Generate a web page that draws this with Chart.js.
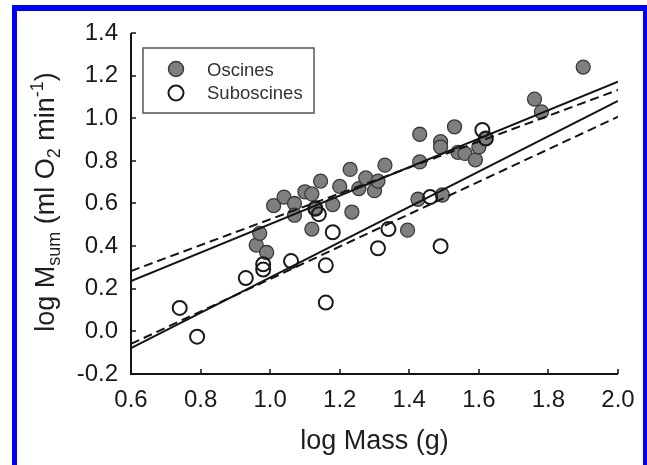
<!DOCTYPE html>
<html>
<head>
<meta charset="utf-8">
<script src="https://cdn.jsdelivr.net/npm/chart.js@4.4.1/dist/chart.umd.min.js"></script>
<style>
  html, body { margin: 0; padding: 0; background: #fff; overflow: hidden; }
  #wrap { position: relative; width: 647px; height: 465px; }
  #myChart { display: block; }
  #frame { position: absolute; left: 12px; top: 5px; width: 626px; height: 520px;
           border: 5px solid #0000f5; border-top-width: 6px; pointer-events: none; }
</style>
</head>
<body>
<div id="wrap">
  <canvas id="myChart" width="647" height="465"></canvas>
  <div id="frame"></div>
</div>
<script>
// Oscines (filled grey circles)
const oscX = [0.96, 0.97, 0.99, 1.01, 1.04, 1.07, 1.07, 1.10, 1.12, 1.12, 1.13, 1.145, 1.18, 1.20, 1.23, 1.235, 1.255, 1.275, 1.30, 1.31,
              1.33, 1.395, 1.425, 1.43, 1.43, 1.49, 1.49, 1.495, 1.53, 1.54, 1.56, 1.59, 1.60, 1.62, 1.76, 1.78, 1.90];
const oscY = [0.405, 0.46, 0.37, 0.59, 0.63, 0.60, 0.545, 0.655, 0.645, 0.48, 0.58, 0.705, 0.595, 0.68, 0.76, 0.56, 0.67, 0.72, 0.66, 0.705,
              0.78, 0.475, 0.62, 0.795, 0.925, 0.89, 0.865, 0.64, 0.96, 0.84, 0.835, 0.805, 0.865, 0.905, 1.09, 1.03, 1.24];

// Suboscines (open circles)
const subX = [0.74, 0.79, 0.93, 0.98, 0.98, 1.06, 1.13, 1.14, 1.16, 1.16, 1.18, 1.31, 1.34, 1.46, 1.49, 1.61, 1.62];
const subY = [0.11, -0.025, 0.25, 0.315, 0.29, 0.33, 0.575, 0.55, 0.31, 0.135, 0.465, 0.39, 0.48, 0.63, 0.40, 0.945, 0.905];

// regression lines, end points at x = 0.6 and 2.0
const lineX = [0.6, 2.0];
const oscSolid = [0.236, 1.172];
const oscDashed = [0.283, 1.133];
const subSolid = [-0.079, 1.081];
const subDashed = [-0.059, 1.007];

const xTicks = [0.6, 0.8, 1.0, 1.2, 1.4, 1.6, 1.8, 2.0];
const yTicks = [-0.2, 0.0, 0.2, 0.4, 0.6, 0.8, 1.0, 1.2, 1.4];

const FONT = "'Liberation Sans', Arial, sans-serif";
const GREY = '#7f7f7f';

function pts(xs, ys) {
  return xs.map((x, i) => ({ x: x, y: ys[i] }));
}

function lineSet(ys, dash) {
  return {
    type: 'line',
    data: pts(lineX, ys),
    borderColor: '#141414',
    borderWidth: 2,
    borderDash: dash,
    pointRadius: 0,
    fill: false,
    order: 0
  };
}

// axes with inward ticks, titles and boxed legend
const decor = {
  id: 'decor',
  afterDraw(chart) {
    const c = chart.ctx;
    const xs = chart.scales.x, ys = chart.scales.y;
    const L = xs.left, R = xs.right, T = ys.top, B = ys.bottom;
    c.save();
    c.strokeStyle = '#141414';
    c.lineWidth = 2;
    c.beginPath();
    c.moveTo(L, T);
    c.lineTo(L, B);
    c.lineTo(R, B);
    c.stroke();
    c.lineWidth = 1.5;
    c.beginPath();
    xTicks.forEach(v => {
      const p = Math.round(xs.getPixelForValue(v));
      c.moveTo(p, B); c.lineTo(p, B - 5);
    });
    yTicks.forEach(v => {
      const p = Math.round(ys.getPixelForValue(v));
      c.moveTo(L, p); c.lineTo(L + 5, p);
    });
    c.stroke();

    // x title
    c.fillStyle = '#1e1e1e';
    c.font = '27px ' + FONT;
    c.textAlign = 'center';
    c.textBaseline = 'alphabetic';
    c.fillText('log Mass (g)', (L + R) / 2, 449);

    // y title with sub/superscripts
    const parts = [
      ['log M', 27, 0], ['sum', 18, 6], [' (ml O', 27, 0], ['2', 18, 6],
      [' min', 27, 0], ['-1', 18, -11], [')', 27, 0]
    ];
    let total = 0;
    parts.forEach(p => { c.font = p[1] + 'px ' + FONT; total += c.measureText(p[0]).width; });
    c.translate(54, 202 + total / 2);
    c.rotate(-Math.PI / 2);
    c.textAlign = 'left';
    let cx = 0;
    parts.forEach(p => {
      c.font = p[1] + 'px ' + FONT;
      c.fillText(p[0], cx, p[2]);
      cx += c.measureText(p[0]).width;
    });
    c.setTransform(1, 0, 0, 1, 0, 0);

    // legend
    c.strokeStyle = '#555';
    c.lineWidth = 1.5;
    c.strokeRect(143, 48, 171, 65);
    c.beginPath();
    c.arc(176, 69, 7.5, 0, Math.PI * 2);
    c.fillStyle = GREY;
    c.fill();
    c.strokeStyle = '#3a3a3a';
    c.lineWidth = 1.5;
    c.stroke();
    c.beginPath();
    c.arc(176, 93, 7.5, 0, Math.PI * 2);
    c.strokeStyle = '#1a1a1a';
    c.lineWidth = 2;
    c.stroke();
    c.fillStyle = '#333';
    c.font = '18.5px ' + FONT;
    c.textAlign = 'left';
    c.textBaseline = 'alphabetic';
    c.fillText(chart.data.datasets[0].label, 207, 76);
    c.fillText(chart.data.datasets[1].label, 207, 99);
    c.restore();
  }
};

const ctx = document.getElementById('myChart').getContext('2d');
const myChart = new Chart(ctx, {
  type: 'scatter',
  data: {
    datasets: [
      {
        label: 'Oscines',
        data: pts(oscX, oscY),
        pointRadius: 7,
        pointBackgroundColor: GREY,
        pointBorderColor: '#3a3a3a',
        pointBorderWidth: 1.3,
        order: 2
      },
      {
        label: 'Suboscines',
        data: pts(subX, subY),
        pointRadius: 7,
        pointBackgroundColor: 'rgba(255,255,255,0)',
        pointBorderColor: '#1a1a1a',
        pointBorderWidth: 2,
        order: 1
      },
      lineSet(oscSolid, []),
      lineSet(oscDashed, [9, 5]),
      lineSet(subSolid, []),
      lineSet(subDashed, [9, 5])
    ]
  },
  options: {
    responsive: false,
    animation: false,
    layout: { padding: { top: 33, right: 29, bottom: 0, left: 0 } },
    plugins: { legend: { display: false }, tooltip: { enabled: false } },
    scales: {
      x: {
        type: 'linear',
        min: 0.6,
        max: 2.0,
        afterFit: s => { s.height = 91; },
        afterBuildTicks: s => { s.ticks = xTicks.map(v => ({ value: v })); },
        grid: { display: false, drawTicks: false },
        border: { display: false },
        ticks: {
          padding: 12,
          maxRotation: 0,
          color: '#1a1a1a',
          font: { family: FONT, size: 24 },
          callback: v => v.toFixed(1)
        }
      },
      y: {
        type: 'linear',
        min: -0.2,
        max: 1.4,
        afterFit: s => { s.width = 131; },
        afterBuildTicks: s => { s.ticks = yTicks.map(v => ({ value: v })); },
        grid: { display: false, drawTicks: false },
        border: { display: false },
        ticks: {
          padding: 13,
          color: '#1a1a1a',
          font: { family: FONT, size: 24 },
          callback: v => v.toFixed(1)
        }
      }
    }
  },
  plugins: [decor]
});
</script>
</body>
</html>
